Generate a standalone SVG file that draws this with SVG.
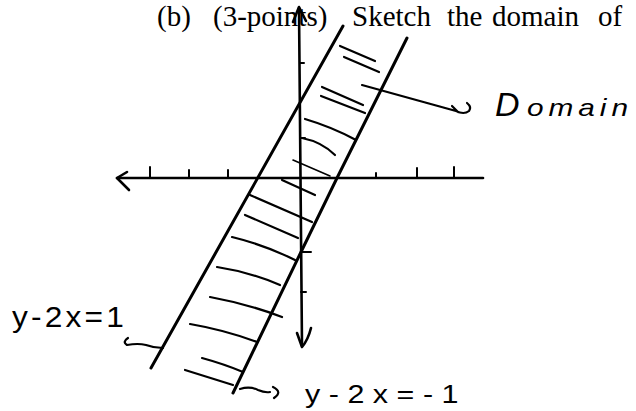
<svg xmlns="http://www.w3.org/2000/svg" width="636" height="411" viewBox="0 0 636 411">
  <style>
    .ink { fill: none; stroke: #000; stroke-linecap: round; stroke-linejoin: round; }
    .axis { stroke-width: 2.6; }
    .bound { stroke-width: 3; }
    .hatch { stroke-width: 2.2; }
    .thin { stroke-width: 1.6; }
    .tick { stroke-width: 2; }
    .title { font-family: "Liberation Serif", "DejaVu Serif", serif; font-size: 29px; fill: #000; }
    .hand { font-family: "Liberation Sans", "DejaVu Sans", sans-serif; fill: #000; }
  </style>
  <rect width="636" height="411" fill="#fff"/>

  <g id="title">
    <text class="title" y="26">
      <tspan x="157">(b)</tspan><tspan x="213">(3-points)</tspan><tspan x="352">Sketch</tspan><tspan x="447">the</tspan><tspan x="492">domain</tspan><tspan x="598">of</tspan>
    </text>
  </g>

  <g id="axes" class="ink">
    <!-- vertical axis -->
    <path class="axis" d="M299,8 L302,346"/>
    <path class="axis" d="M293,22 L299,7 L306,21"/>
    <path class="axis" d="M297,333 L302,347 Q308,340 311,328"/>
    <!-- horizontal axis -->
    <path class="axis" d="M117,178 L483,178"/>
    <path class="axis" d="M127,172 L117,178 L129,190"/>
    <!-- ticks -->
    <path class="tick" d="M150,167 L150,178 M189,170 L189,178 M228,170 L228,178 M376,173 L376,178 M417,168 L417,178 M454,167 L454,178"/>
    <path class="tick" d="M300,63 L304,63 M300,138 L305,138 M301,252 L311,252 M301,292 L306,292"/>
  </g>

  <g id="boundary-lines" class="ink">
    <path id="line-upper" class="bound" d="M343,26 L151,368"/>
    <path id="line-lower" class="bound" d="M407,38 L337,178 L301,252 L233,393"/>
  </g>

  <g id="hatching" class="ink">
    <path class="hatch" d="M340,46 L375,61"/>
    <path class="hatch" d="M344,57 L379,72"/>
    <path class="hatch" d="M322,87 L363,105"/>
    <path class="hatch" d="M321,96 L365,113"/>
    <path class="hatch" d="M305,119 Q332,127 356,140"/>
    <path class="hatch" d="M302,138 Q322,142 335,155"/>
    <path class="thin" d="M293,160 L330,176"/>
    <path class="hatch" d="M282,180 L315,195"/>
    <path class="hatch" d="M250,195 L312,222"/>
    <path class="hatch" d="M245,215 L298,238"/>
    <path class="hatch" d="M232,237 Q265,245 295,260"/>
    <path class="hatch" d="M217,267 Q250,272 280,285"/>
    <path class="hatch" d="M210,297 Q248,304 282,317"/>
    <path class="hatch" d="M190,324 Q225,330 257,342"/>
    <path class="hatch" d="M202,358 Q224,364 243,372"/>
    <path class="hatch" d="M185,370 L233,385"/>
  </g>

  <g id="connectors" class="ink">
    <path id="arrow-domain" class="hatch" d="M362,85 L456,111 Q464,115 469,111 Q472,107 467,103 M452,106 L458,112"/>
    <path id="arrow-line1" class="hatch" d="M128,338 Q122,342 127,345 Q138,343 146,345 Q154,348 163,348"/>
    <path id="arrow-line2" class="hatch" d="M240,389 Q250,386 258,390 Q265,393 270,392 M273,387 Q283,392 274,398"/>
  </g>

  <g id="label-domain">
    <text class="hand" y="116" font-style="italic"><tspan x="495" font-size="34">D</tspan><tspan x="527" font-size="24" letter-spacing="4" textLength="106" lengthAdjust="spacingAndGlyphs">omain</tspan></text>
  </g>
  <g id="label-line1">
    <text class="hand" x="12" y="327" font-size="30" letter-spacing="3" textLength="115" lengthAdjust="spacingAndGlyphs">y-2x=1</text>
  </g>
  <g id="label-line2">
    <text class="hand" x="305" y="403" font-size="25" letter-spacing="7" textLength="162" lengthAdjust="spacingAndGlyphs">y-2x=-1</text>
  </g>
</svg>
